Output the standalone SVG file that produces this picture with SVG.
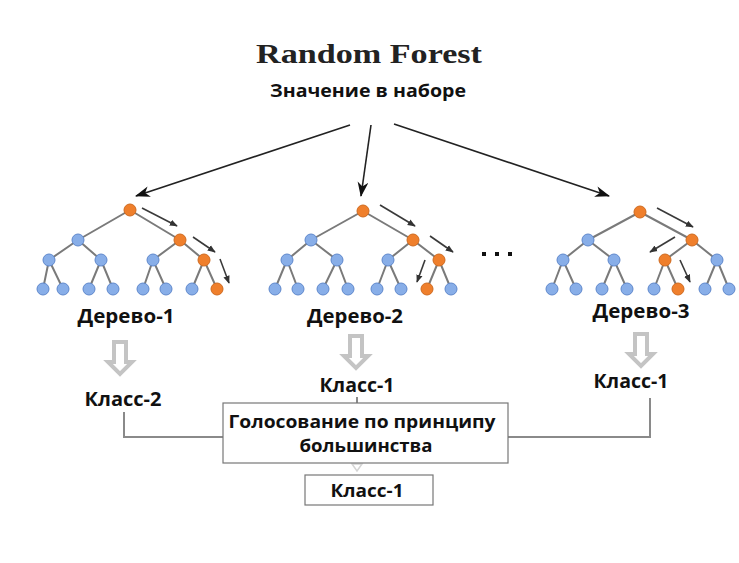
<svg xmlns="http://www.w3.org/2000/svg" width="739" height="563" viewBox="0 0 739 563">
  <defs>
    <marker id="stealth" viewBox="0 0 14 10" refX="13" refY="5" markerWidth="15" markerHeight="11" markerUnits="userSpaceOnUse" orient="auto">
      <path d="M0,0 L14,5 L0,10 L4,5 Z" fill="#111"/>
    </marker>
    <marker id="small" viewBox="0 0 10 8" refX="9" refY="4" markerWidth="8" markerHeight="7" markerUnits="userSpaceOnUse" orient="auto">
      <path d="M0,0 L10,4 L0,8 Z" fill="#333"/>
    </marker>
    <path id="hollow" d="M-6,0 H6 V20 H12 L0,32 L-12,20 H-6 Z"/>
  </defs>
  <style>
    .lbl { font-family: "Open Sans", "Liberation Sans", sans-serif; font-weight: 700; fill: #111; }
    .title { font-family: "Liberation Serif", serif; font-weight: 700; fill: #222; }
    .edge { stroke: #7a7a7a; stroke-width: 2; fill: none; }
    .b { fill: #88aee8; stroke: #5f88cc; stroke-width: 1; }
    .o { fill: #ef7f2c; stroke: #cf6a1f; stroke-width: 1; }
    .path-arrow { stroke: #3a3a3a; stroke-width: 1.6; fill: none; marker-end: url(#small); }
    .main { stroke: #222; stroke-width: 1.6; fill: none; marker-end: url(#stealth); }
    .hollow { fill: #fff; stroke: #c4c4c4; stroke-width: 4; stroke-linejoin: miter; }
    .link { stroke: #8a8a8a; stroke-width: 2; fill: none; }
    .box { fill: #fff; stroke: #777; stroke-width: 1.2; }
  </style>
  <rect width="739" height="563" fill="#fff"/>

  <text class="title" x="369" y="63" font-size="27" text-anchor="middle" textLength="226" lengthAdjust="spacingAndGlyphs">Random Forest</text>

  <g id="input">
    <text class="lbl" x="368" y="97" font-size="17" text-anchor="middle" textLength="196" lengthAdjust="spacingAndGlyphs">Значение в наборе</text>
  </g>

  <!-- fan-out from the data set to each tree -->
  <g id="connectors">
    <line class="main" x1="350" y1="125" x2="136" y2="196"/>
    <line class="main" x1="371" y1="125" x2="361" y2="196"/>
    <line class="main" x1="394" y1="124" x2="609" y2="196"/>
    <!-- class outputs joined into the vote box -->
    <polyline class="link" points="124,412 124,437 223,437"/>
    <polyline class="link" points="650,398 650,437 508,437"/>
    <line class="link" x1="357" y1="397" x2="357" y2="403" stroke-width="1.5"/>
    <path d="M352,464 L362,464 L357,471 Z" fill="none" stroke="#d4d4d4" stroke-width="1.5"/>
  </g>

  <!-- Tree 1 -->
  <g id="tree1">
    <g class="edges">
      <path class="edge" d="M130,210 L78,240 M130,210 L180,240 M78,240 L49,260 M78,240 L101,260 M180,240 L153,260 M180,240 L204,260 M49,260 L43,289 M49,260 L63,289 M101,260 L89,289 M101,260 L113,289 M153,260 L143,289 M153,260 L166,289 M204,260 L192,289 M204,260 L217,289"/>
    </g>
    <circle class="o" cx="130" cy="210" r="6"/>
    <circle class="b" cx="78" cy="240" r="6"/>
    <circle class="o" cx="180" cy="240" r="6"/>
    <circle class="b" cx="49" cy="260" r="6"/>
    <circle class="b" cx="101" cy="260" r="6"/>
    <circle class="b" cx="153" cy="260" r="6"/>
    <circle class="o" cx="204" cy="260" r="6"/>
    <circle class="b" cx="43" cy="289" r="6"/>
    <circle class="b" cx="63" cy="289" r="6"/>
    <circle class="b" cx="89" cy="289" r="6"/>
    <circle class="b" cx="113" cy="289" r="6"/>
    <circle class="b" cx="143" cy="289" r="6"/>
    <circle class="b" cx="166" cy="289" r="6"/>
    <circle class="b" cx="192" cy="289" r="6"/>
    <circle class="o" cx="217" cy="289" r="6"/>
    <line class="path-arrow" x1="142" y1="208" x2="177" y2="226"/>
    <line class="path-arrow" x1="193" y1="237" x2="215" y2="252"/>
    <line class="path-arrow" x1="220" y1="259" x2="229" y2="283"/>
    <text class="lbl" x="126" y="323" font-size="20" text-anchor="middle" textLength="97" lengthAdjust="spacingAndGlyphs">Дерево-1</text>
    <use href="#hollow" class="hollow" transform="translate(120,342)"/>
    <text class="lbl" x="123" y="406" font-size="19" text-anchor="middle" textLength="77" lengthAdjust="spacingAndGlyphs">Класс-2</text>
  </g>

  <!-- Tree 2 -->
  <g id="tree2">
    <path class="edge" d="M363,211 L311,240 M363,211 L413,240 M311,240 L287,260 M311,240 L337,260 M413,240 L388,260 M413,240 L439,260 M287,260 L275,289 M287,260 L298,289 M337,260 L323,289 M337,260 L348,289 M388,260 L377,289 M388,260 L401,289 M439,260 L427,289 M439,260 L451,289"/>
    <circle class="o" cx="363" cy="211" r="6"/>
    <circle class="b" cx="311" cy="240" r="6"/>
    <circle class="o" cx="413" cy="240" r="6"/>
    <circle class="b" cx="287" cy="260" r="6"/>
    <circle class="b" cx="337" cy="260" r="6"/>
    <circle class="b" cx="388" cy="260" r="6"/>
    <circle class="o" cx="439" cy="260" r="6"/>
    <circle class="b" cx="275" cy="289" r="6"/>
    <circle class="b" cx="298" cy="289" r="6"/>
    <circle class="b" cx="323" cy="289" r="6"/>
    <circle class="b" cx="348" cy="289" r="6"/>
    <circle class="b" cx="377" cy="289" r="6"/>
    <circle class="b" cx="401" cy="289" r="6"/>
    <circle class="o" cx="427" cy="289" r="6"/>
    <circle class="b" cx="451" cy="289" r="6"/>
    <line class="path-arrow" x1="380" y1="205" x2="415" y2="226"/>
    <line class="path-arrow" x1="430" y1="236" x2="453" y2="252"/>
    <line class="path-arrow" x1="425" y1="260" x2="417" y2="282"/>
    <text class="lbl" x="355" y="323" font-size="20" text-anchor="middle" textLength="96" lengthAdjust="spacingAndGlyphs">Дерево-2</text>
    <use href="#hollow" class="hollow" transform="translate(356,336)"/>
    <text class="lbl" x="357" y="392" font-size="19" text-anchor="middle" textLength="75" lengthAdjust="spacingAndGlyphs">Класс-1</text>
  </g>

  <g id="ellipsis">
    <rect x="482" y="252" width="4" height="4" fill="#111"/>
    <rect x="495" y="252" width="4" height="4" fill="#111"/>
    <rect x="508" y="252" width="4" height="4" fill="#111"/>
  </g>

  <!-- Tree 3 -->
  <g id="tree3">
    <path class="edge" d="M640,212 L588,240 M640,212 L692,240 M588,240 L563,260 M588,240 L614,260 M692,240 L665,260 M692,240 L717,260 M563,260 L552,289 M563,260 L576,289 M614,260 L602,289 M614,260 L627,289 M665,260 L654,289 M665,260 L678,289 M717,260 L705,289 M717,260 L729,289"/>
    <circle class="o" cx="640" cy="212" r="6"/>
    <circle class="b" cx="588" cy="240" r="6"/>
    <circle class="o" cx="692" cy="240" r="6"/>
    <circle class="b" cx="563" cy="260" r="6"/>
    <circle class="b" cx="614" cy="260" r="6"/>
    <circle class="o" cx="665" cy="260" r="6"/>
    <circle class="b" cx="717" cy="260" r="6"/>
    <circle class="b" cx="552" cy="289" r="6"/>
    <circle class="b" cx="576" cy="289" r="6"/>
    <circle class="b" cx="602" cy="289" r="6"/>
    <circle class="b" cx="627" cy="289" r="6"/>
    <circle class="b" cx="654" cy="289" r="6"/>
    <circle class="o" cx="678" cy="289" r="6"/>
    <circle class="b" cx="705" cy="289" r="6"/>
    <circle class="b" cx="729" cy="289" r="6"/>
    <line class="path-arrow" x1="657" y1="208" x2="693" y2="227"/>
    <line class="path-arrow" x1="675" y1="237" x2="650" y2="252"/>
    <line class="path-arrow" x1="680" y1="260" x2="690" y2="282"/>
    <text class="lbl" x="641" y="318" font-size="20" text-anchor="middle" textLength="97" lengthAdjust="spacingAndGlyphs">Дерево-3</text>
    <use href="#hollow" class="hollow" transform="translate(641,334)"/>
    <text class="lbl" x="631" y="388" font-size="19" text-anchor="middle" textLength="75" lengthAdjust="spacingAndGlyphs">Класс-1</text>
  </g>

  <g id="vote">
    <rect class="box" x="223" y="403" width="285" height="60"/>
    <text class="lbl" x="362" y="428" font-size="18" text-anchor="middle" textLength="267" lengthAdjust="spacingAndGlyphs">Голосование по принципу</text>
    <text class="lbl" x="366" y="452" font-size="18" text-anchor="middle" textLength="133" lengthAdjust="spacingAndGlyphs">большинства</text>
  </g>

  <g id="result">
    <rect class="box" x="305" y="475" width="128" height="30"/>
    <text class="lbl" x="367" y="497" font-size="18" text-anchor="middle" textLength="73" lengthAdjust="spacingAndGlyphs">Класс-1</text>
  </g>
</svg>
